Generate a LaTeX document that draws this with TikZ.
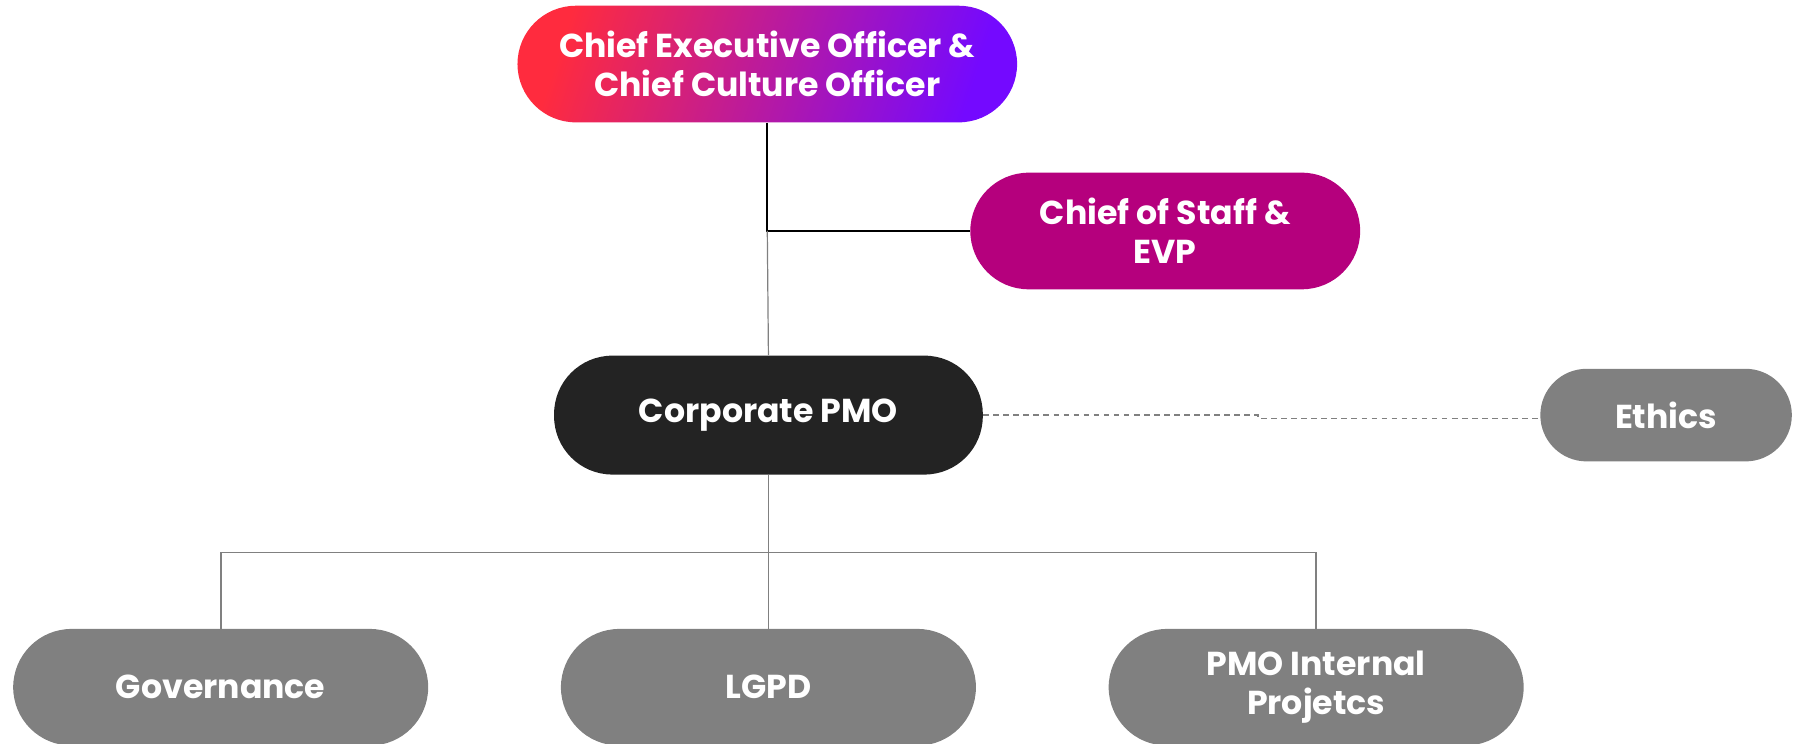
\documentclass[tikz,border=0pt]{standalone}
\usepackage{fontspec}
\setmainfont{Poppins}
\usetikzlibrary{positioning}
\definecolor{ceored}{HTML}{FF2B3E}
\definecolor{ceoviolet}{HTML}{7409FF}
\definecolor{staffpink}{HTML}{B5007D}
\definecolor{pmoblack}{HTML}{232323}
\definecolor{unitgrey}{HTML}{808080}

\begin{document}
\begin{tikzpicture}[x=0.02cm,y=-0.02cm,
	pill/.style={rectangle,rounded corners=1.02cm,minimum height=2.04cm,inner sep=0pt,
		text=white,align=center,font=\bfseries\fontsize{16.5}{19.2}\selectfont},
	unit/.style={pill,fill=unitgrey,minimum width=7.26cm},
	link/.style={draw=unitgrey,line width=0.8pt}]
	\useasboundingbox (0,0) rectangle (1568,650);
	\path (671,56) coordinate(c-ceo)
	(1019,202) coordinate(c-staff)
	(672,363) coordinate(c-pmo)
	(1457,363) coordinate(c-ethics)
	(672,483) coordinate(bus)
	(1100,363) coordinate(jogA)
	(1100,366) coordinate(jogB);
	
	\node[pill,left color=ceored,right color=ceoviolet,shading angle=72,minimum width=8.74cm] (ceo) at (c-ceo)
	{Chief Executive Officer \&\\Chief Culture Officer};
	\node[pill,fill=staffpink,minimum width=6.82cm] (staff) at (c-staff) {Chief of Staff \&\\EVP};
	\node[pill,fill=pmoblack,minimum width=7.5cm,minimum height=2.08cm] (pmo) at (c-pmo) {Corporate PMO};
	\node[pill,fill=unitgrey,minimum width=4.4cm,minimum height=1.62cm,rounded corners=0.81cm] (ethics) at (c-ethics) {Ethics};
	\node[unit] (gov) at (193,601) {Governance};
	\node[unit] (lgpd) at (672,601) {LGPD};
	\node[unit] (proj) at (1151,601) {PMO Internal\\Projetcs};
	
	\draw[line width=0.9pt] (ceo.south) -- (ceo.south |- staff.west) coordinate(split) -- (staff.west);
	\draw[link,line width=0.6pt] (split) -- (pmo.north);
	\draw[link] (pmo.south) -- (bus);
	\draw[link] (gov.north) |- (bus) -| (proj.north);
	\draw[link,line width=0.6pt] (bus) -- (lgpd.north);
	\draw[link,line width=0.9pt,dash pattern=on 2.8pt off 2.2pt] (pmo.east) -- (jogA) -- (jogB) -- (jogB -| ethics.west);
	
\end{tikzpicture}
\end{document}
